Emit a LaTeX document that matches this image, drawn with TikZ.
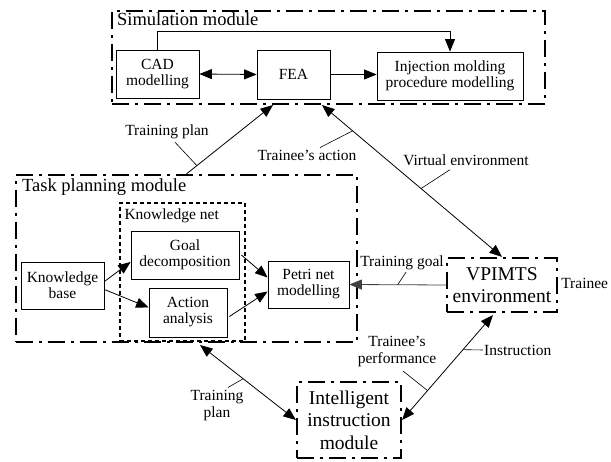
\documentclass[tikz,border=0pt]{standalone}
\usepackage{fontspec}
\setmainfont{Liberation Serif}
\usetikzlibrary{positioning, calc, arrows.meta}

\begin{document}
\begin{tikzpicture}[x=1pt, y=-1pt,
        box/.style={draw, line width=0.8pt, align=center, inner sep=0pt, font=\fontsize{15.5}{16}\selectfont},
        module/.style={draw, line width=2.2pt, dash pattern=on 17pt off 6pt on 3pt off 6pt},
        bigbox/.style={module, align=center, inner sep=0pt, font=\fontsize{19.5}{22.5}\selectfont},
        title/.style={anchor=base west, inner sep=0pt, font=\fontsize{18.5}{20}\selectfont},
        lbl/.style={align=center, inner sep=0pt, font=\fontsize{15.5}{17}\selectfont},
        arr/.style={line width=0.8pt, -{Triangle[length=12.5pt,width=10pt]}},
        darr/.style={line width=0.8pt, {Triangle[length=12.5pt,width=10pt]}-{Triangle[length=12.5pt,width=10pt]}},
        lead/.style={line width=0.6pt}]
        \useasboundingbox (0,0) rectangle (611,462);

        % Modules
        \node[module, minimum width=433pt, minimum height=93pt] (sim) at (328.5,57.5) {};
        \node[title] (simtitle) at ($(sim.north west)+(6,16)$) {Simulation module};
        \node[module, minimum width=341pt, minimum height=167pt] (task) at (186.5,258.5) {};
        \node[title] (tasktitle) at ($(task.north west)+(7,18)$) {Task planning module};
        \node[draw, line width=1.3pt, dash pattern=on 4pt off 3pt, minimum width=125pt, minimum height=138pt] (knet) at (182.5,272) {};
        \node[lbl, anchor=base west] (knettitle) at ($(knet.north west)+(5,17)$) {Knowledge net};
        \node[bigbox, minimum width=110pt, minimum height=54pt] (vp) at (502,285) {VPIMTS\\environment};
        \node[bigbox, minimum width=104pt, minimum height=76pt] (ii) at (349,420) {Intelligent\\instruction\\module};
        \node[lbl, anchor=west] (trainee) at ($(vp.east)+(3,-2)$) {Trainee};

        % Nodes
        \node[box, minimum width=83pt, minimum height=48pt] (cad) at (157.5,74) {CAD\\modelling};
        \node[box, minimum width=73pt, minimum height=49pt] (fea) at (293.5,74.5) {FEA};
        \node[box, minimum width=146pt, minimum height=48pt] (inj) at (450,76) {Injection molding\\procedure modelling};
        \node[box, minimum width=83pt, minimum height=47pt] (kb) at (62.5,285.5) {Knowledge\\base};
        \node[box, minimum width=108pt, minimum height=48pt] (goal) at (185,255) {Goal\\decomposition};
        \node[box, minimum width=78pt, minimum height=49pt] (act) at (188,312.5) {Action\\analysis};
        \node[box, minimum width=81pt, minimum height=47pt] (petri) at (308.5,284.5) {Petri net\\modelling};

        % Edges
        \coordinate (tpend) at (273,105);
        \coordinate (taend) at (322,105);
        \coordinate (tpstart) at (200,345);
        \coordinate (insstart) at (493,315);
        \draw[darr] (cad.east) -- (fea.west);
        \draw[arr] (fea.east) -- (fea.east -| inj.west);
        \draw[arr] (cad.north) -- ++(0,-18) -| (inj.north);
        \draw[arr] ($(kb.east)+(0,-4)$) -- ($(goal.west)+(0,7)$);
        \draw[arr] ($(kb.east)+(0,4)$) -- ($(act.west)+(0,-5)$);
        \draw[arr] ($(goal.east)+(2,0)$) -- ($(petri.west)+(0,-7)$);
        \draw[arr] ($(act.east)+(2,4)$) -- ($(petri.west)+(0,7)$);
        \draw[arr] (task.north) -- (tpend);
        \draw[darr] (taend) -- (vp.north);
        \draw[arr, black!75] (vp.west) -- (petri.east);
        \draw[darr] (tpstart) -- (ii.west);
        \draw[darr] (insstart) -- (ii.east);

        % Labels
        \node[lbl] (tplan) at (167,132) {Training plan};
        \node[lbl] (tact) at (307,155) {Trainee's action};
        \node[lbl] (venv) at (466,160) {Virtual environment};
        \node[lbl] (tgoal) at (402,263) {Training goal};
        \node[lbl] (tplanb) at (217,406) {Training\\plan};
        \node[lbl] (perf) at (397,351.5) {Trainee's\\performance};
        \node[lbl, anchor=west] (instr) at (484,350) {Instruction};

        \draw[lead] ($(tplan.south)+(8,3)$) -- ($(task.north)!0.12!(tpend)$);
        \draw[lead] ($(tact.north)+(13,-2)$) -- ($(taend)!0.17!(vp.north)$);
        \draw[lead] ($(venv.south)+(-16,4)$) -- ($(taend)!0.55!(vp.north)$);
        \draw[lead] ($(tgoal.south)+(4,2)$) -- ($(vp.west)!0.5!(petri.east)$);
        \draw[lead] ($(tplanb.north)+(11,-3)$) -- ($(tpstart)!0.45!(ii.west)$);
        \draw[lead] ($(perf.south)+(6,4)$) -- ($(insstart)!0.72!(ii.east)$);
        \draw[lead] ($(insstart)!0.33!(ii.east)$) -- ($(instr.west)+(-1,0)$);
\end{tikzpicture}
\end{document}
